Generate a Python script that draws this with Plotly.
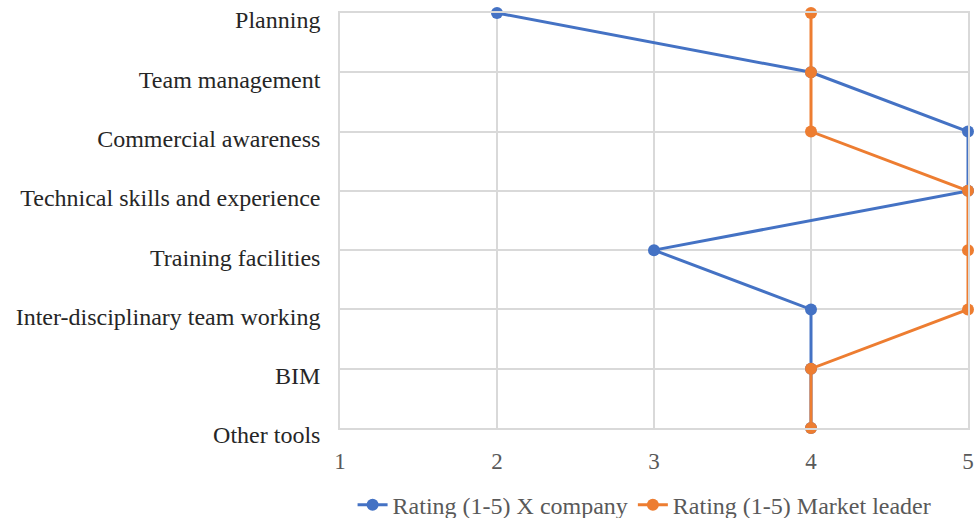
import plotly.graph_objects as go

categories = ["Planning", "Team management", "Commercial awareness",
              "Technical skills and experience", "Training facilities",
              "Inter-disciplinary team working", "BIM", "Other tools"]
x_company = [2, 4, 5, 5, 3, 4, 4, 4]
market_leader = [4, 4, 4, 5, 5, 5, 4, 4]
x_ticks = [1, 2, 3, 4, 5]

fig = go.Figure()
fig.add_trace(go.Scatter(x=x_company, y=categories, mode="lines+markers",
                         name="Rating (1-5) X company",
                         line=dict(color="#4472C4", width=3),
                         marker=dict(size=12, color="#4472C4"),
                         cliponaxis=False))
fig.add_trace(go.Scatter(x=market_leader, y=categories, mode="lines+markers",
                         name="Rating (1-5) Market leader",
                         line=dict(color="#ED7D31", width=3),
                         marker=dict(size=12, color="#ED7D31"),
                         cliponaxis=False))

fig.update_layout(
    width=976, height=518,
    margin=dict(l=340, r=8, t=13, b=90, autoexpand=False),
    paper_bgcolor="white", plot_bgcolor="white",
    font=dict(family="Liberation Serif, Times New Roman, serif", size=24, color="#595959"),
    showlegend=True,
    legend=dict(orientation="h", xref="paper", x=0.485, xanchor="center",
                yref="container", y=0.025, yanchor="middle",
                font=dict(size=24, color="#595959")),
)
fig.update_xaxes(range=[1, 5], tickvals=x_ticks, showgrid=True, gridcolor="#d9d9d9",
                 gridwidth=1.5, zeroline=False, showline=True, mirror=True,
                 linecolor="#d9d9d9", linewidth=1.5, ticks="",
                 tickfont=dict(size=23, color="#595959"), ticklabelstandoff=12)
fig.update_yaxes(type="category", categoryorder="array", categoryarray=categories,
                 range=[7, 0], showgrid=True, gridcolor="#d9d9d9", gridwidth=1.5,
                 zeroline=False, showline=True, mirror=True,
                 linecolor="#d9d9d9", linewidth=1.5, ticks="",
                 tickfont=dict(size=24, color="#262626"), ticklabelstandoff=13,
                 ticklabelshift=-7)

fig.write_html("out.html", config={"displayModeBar": False},
               post_script="document.body.style.margin='0';")
